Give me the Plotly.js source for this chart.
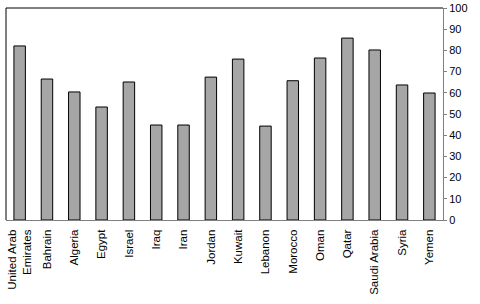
<!DOCTYPE html>
<html>
<head>
<meta charset="utf-8">
<script src="https://cdn.plot.ly/plotly-3.0.1.min.js"></script>
<style>html,body{margin:0;padding:0;background:#fff;}#chart{width:480px;height:304px;}</style>
</head>
<body>
<div id="chart"></div>
<script>
const categories = ["United Arab<br>Emirates","Bahrain","Algeria","Egypt","Israel","Iraq","Iran","Jordan","Kuwait","Lebanon","Morocco","Oman","Qatar","Saudi Arabia","Syria","Yemen"];
const values = [82.1,66.5,60.4,53.3,65.1,44.8,44.8,67.4,75.9,44.3,65.7,76.4,85.8,80.2,63.7,59.9];
const yTicks = [0,10,20,30,40,50,60,70,80,90,100];

const trace = {
  type: 'bar',
  x: categories,
  y: values,
  marker: {color: '#a6a6a6', line: {color: '#000', width: 1}},
  hoverinfo: 'none'
};

const layout = {
  width: 480, height: 304,
  margin: {l: 6, r: 37, t: 8, b: 84},
  paper_bgcolor: '#fff', plot_bgcolor: '#fff',
  showlegend: false,
  bargap: 0.58,
  font: {family: 'Liberation Sans, Arial, sans-serif', size: 11, color: '#000'},
  xaxis: {
    type: 'category',
    showline: true, linecolor: '#808080', linewidth: 1,
    ticks: '', tickangle: -90, showgrid: false, zeroline: false,
    ticklabelstandoff: 4,
    tickfont: {size: 11.5}
  },
  yaxis: {
    side: 'right', range: [0, 100], tickvals: yTicks,
    showline: true, linecolor: '#808080', linewidth: 1,
    ticks: 'outside', ticklen: 3, tickcolor: '#808080',
    showgrid: false, zeroline: false, tickfont: {size: 11}
  },
  shapes: [
    {type: 'line', xref: 'paper', yref: 'paper', x0: 0, x1: 1, y0: 1, y1: 1, line: {color: '#000', width: 1}},
    {type: 'line', xref: 'paper', yref: 'paper', x0: 0, x1: 0, y0: 0, y1: 1, line: {color: '#000', width: 1}}
  ]
};

Plotly.newPlot('chart', [trace], layout, {staticPlot: true, displayModeBar: false});
</script>
</body>
</html>
